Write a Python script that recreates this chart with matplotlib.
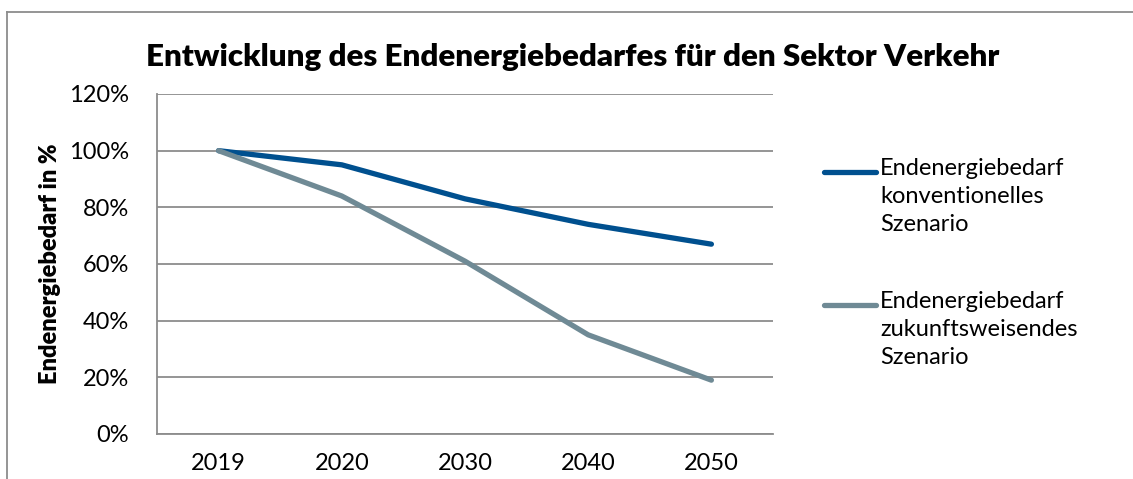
import matplotlib
matplotlib.use('Agg')
import matplotlib.pyplot as plt
from matplotlib.lines import Line2D
from matplotlib.ticker import FuncFormatter

jahre = ['2019', '2020', '2030', '2040', '2050']
konventionell = [100, 95, 83, 74, 67]
zukunft = [100, 84, 61, 35, 19]
namen = ['Endenergiebedarf\nkonventionelles\nSzenario',
         'Endenergiebedarf\nzukunftsweisendes\nSzenario']
farben = ['#00508F', '#6F8A95']

plt.rcParams['font.family'] = ['Lato', 'DejaVu Sans']

W, H = 1133, 479
fig = plt.figure(figsize=(W / 100, H / 100), dpi=100)
# Plotfläche in Pixeln: links 157, rechts 773, oben 94, unten 434
ax = fig.add_axes([157 / W, 1 - 434 / H, (773 - 157) / W, (434 - 94) / H])

x = range(len(jahre))
for werte, farbe in zip([konventionell, zukunft], farben):
    ax.plot(x, werte, color=farbe, lw=3.8, solid_capstyle='round',
            solid_joinstyle='round', zorder=3)

ax.set_xlim(-0.5, len(jahre) - 0.5)
ax.set_ylim(0, 120)
ax.set_yticks(range(0, 121, 20))
ax.yaxis.set_major_formatter(FuncFormatter(lambda v, p: '%d%%' % v))
ax.set_xticks(list(x))
ax.set_xticklabels(jahre)
ax.tick_params(axis='both', length=0, labelsize=17, colors='black')
ax.tick_params(axis='x', pad=14)
ax.tick_params(axis='y', pad=20)
ax.grid(axis='y', color='#8C8C8C', lw=1.3)
ax.set_axisbelow(True)
for s in ['top', 'right']:
    ax.spines[s].set_visible(False)
for s in ['left', 'bottom']:
    ax.spines[s].set_color('#8C8C8C')
    ax.spines[s].set_linewidth(1.3)

ax.set_ylabel('Endenergiebedarf in %', fontsize=17, fontweight='heavy', labelpad=6)
fig.text(573 / W, 1 - 57 / H, 'Entwicklung des Endenergiebedarfes für den Sektor Verkehr',
         ha='center', va='center', fontsize=22.5, fontweight='heavy')

# Legende
for i, (name, farbe) in enumerate(zip(namen, farben)):
    y0 = 172 + i * 133
    fig.add_artist(Line2D([824 / W, 876 / W], [1 - y0 / H, 1 - y0 / H], color=farbe,
                          lw=3.8, solid_capstyle='round'))
    fig.text(880 / W, 1 - (y0 - 14) / H, name, ha='left', va='top', fontsize=17,
             linespacing=1.4)

# Rahmen (oben und links)
fig.add_artist(Line2D([7 / W, 1], [1 - 12 / H, 1 - 12 / H], color='#8C8C8C', lw=1.3))
fig.add_artist(Line2D([7 / W, 7 / W], [0, 1 - 12 / H], color='#8C8C8C', lw=1.3))

fig.savefig('out.png', dpi=100)
